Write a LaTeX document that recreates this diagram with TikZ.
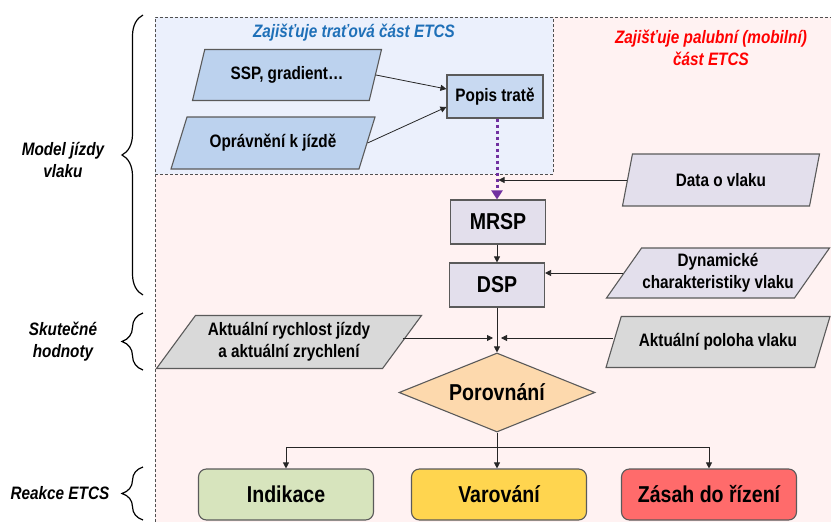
\documentclass[tikz,border=0pt]{standalone}
\usepackage{fontspec}
\setmainfont{Liberation Sans}[FakeStretch=0.85]
\usepackage{xcolor}
\definecolor{bluereg}{HTML}{EBF0FC}
\definecolor{pinkreg}{HTML}{FFF2F2}
\definecolor{dashgray}{HTML}{505050}
\definecolor{edgegray}{HTML}{5A5A5A}
\definecolor{parablue}{HTML}{BCD2EE}
\definecolor{boxblue}{HTML}{C8D9F1}
\definecolor{lavender}{HTML}{E3DFEC}
\definecolor{grayfill}{HTML}{D9D9D9}
\definecolor{peach}{HTML}{FDD9AD}
\definecolor{indgreen}{HTML}{D7E4BD}
\definecolor{varyellow}{HTML}{FFD54F}
\definecolor{zasred}{HTML}{FF6B6B}
\definecolor{titleblue}{HTML}{1F70B8}
\definecolor{titlered}{HTML}{FF0000}
\definecolor{dotpurple}{HTML}{7030A0}
\usetikzlibrary{arrows.meta,shapes.geometric,decorations.pathreplacing}
\newcommand{\smalltxt}{\fontsize{18}{22}\selectfont\bfseries}
\newcommand{\bigtxt}{\fontsize{23}{26}\selectfont\bfseries}
\newcommand{\notetxt}{\fontsize{18}{22}\selectfont\bfseries\itshape}

\begin{document}
\begin{tikzpicture}[x=1pt,y=-1pt,
  region/.style={draw=dashgray,dash pattern=on 3pt off 2pt,line width=0.9pt},
  box/.style={draw=edgegray,line width=1.1pt,rectangle,font=\bigtxt,
        minimum width=95pt,minimum height=44pt,inner sep=0pt},
  para/.style={draw=edgegray,line width=1.1pt,trapezium,trapezium left angle=50,
        trapezium right angle=130,trapezium stretches body,inner sep=0pt,
        font=\smalltxt,align=center},
  reakce/.style={draw=edgegray,line width=1.1pt,rounded corners=8pt,
        minimum width=175pt,minimum height=51pt,font=\bigtxt},
  arr/.style={-{Triangle[length=6pt,width=6pt]},line width=0.8pt,draw=black!85},
  brc/.style={decorate,decoration={brace,amplitude=21pt},line width=1.2pt},
  note/.style={font=\notetxt,align=center}]
  \useasboundingbox (0,0) rectangle (831,522);
  %% Regions
  \fill[pinkreg] (155,17) rectangle (831,522);
  \fill[bluereg] (155,17) rectangle (553,174);
  \draw[region] (155,522) -- (155,17) -- (831,17);
  \draw[region] (155,174) -- (553,174) -- (553,17);
  \node[note,text=titleblue] (ttrack) at (354,33) {Zajišťuje traťová část ETCS};
  \node[note,text=titlered] (tboard) at (711,48) {Zajišťuje palubní (mobilní)\\část ETCS};
  %% Track side
  \node[para,fill=parablue,trapezium left angle=54,trapezium right angle=126,
        minimum width=189pt,minimum height=51pt] (ssp) at (287,75) {SSP, gradient…};
  \node[para,fill=parablue,trapezium left angle=47,trapezium right angle=133,
        minimum width=204pt,minimum height=52pt] (opr) at (273,143) {Oprávnění k jízdě};
  \node[box,fill=boxblue,font=\smalltxt,minimum width=96pt,minimum height=43pt] (popis) at (495,96.5) {Popis tratě};
  \draw[arr] (ssp.east) -- ([yshift=7.5pt]popis.west);
  \draw[arr] (opr.east) -- ([yshift=-10.5pt]popis.west);
  %% Train side
  \node[box,fill=lavender] (mrsp) at (498,222) {MRSP};
  \node[box,fill=lavender] (dsp) at (497,285) {DSP};
  \node[para,fill=lavender,trapezium left angle=53,trapezium right angle=127,
        minimum width=197pt,minimum height=52pt] (data) at (721,180) {Data o vlaku};
  \node[para,fill=lavender,trapezium left angle=48,trapezium right angle=132,
        minimum width=223pt,minimum height=50pt] (dyn) at (718,273) {Dynamické\\charakteristiky vlaku};
  \draw[dotpurple,line width=3pt,dash pattern=on 3pt off 3pt,
        -{Triangle[length=9pt,width=11pt]}] (popis.south -| dsp.north) -- (dsp.north |- mrsp.north);
  \draw[arr,shorten >=1.5pt] (data.west) -- (data.west -| dsp.north);
  \draw[arr] (mrsp.south -| dsp.north) -- (dsp.north);
  \draw[arr] (dyn.west) -- (dyn.west -| dsp.east);
  %% Actual values
  \node[para,fill=grayfill,trapezium left angle=45,trapezium right angle=135,
        minimum width=265pt,minimum height=53pt] (aktr) at (289,342) {Aktuální rychlost jízdy\\a aktuální zrychlení};
  \node[para,fill=grayfill,trapezium left angle=48,trapezium right angle=132,
        minimum width=224pt,minimum height=51pt] (aktp) at (718,342) {Aktuální poloha vlaku};
  \node[diamond,draw=edgegray,line width=1.1pt,fill=peach,font=\bigtxt,aspect=2.48,
        minimum width=196pt,minimum height=79pt,inner sep=0pt] (cmp) at (497,392.5) {Porovnání};
  \coordinate (meet) at (497,338);
  \draw[arr] (dsp) -- (cmp);
  \draw[arr,shorten >=4pt] (aktr.east |- meet) -- (meet);
  \draw[arr,shorten >=4pt] (aktp.west |- meet) -- (meet);
  %% ETCS reactions
  \node[reakce,fill=indgreen] (ind) at (286,494.5) {Indikace};
  \node[reakce,fill=varyellow] (var) at (499,494.5) {Varování};
  \node[reakce,fill=zasred] (zas) at (709,494.5) {Zásah do řízení};
  \coordinate (fork) at (497,447);
  \draw[arr] (cmp.south) -- (cmp.south |- var.north);
  \draw[arr] (fork) -| (ind.north);
  \draw[arr] (fork) -| (zas.north);
  %% Braces
  \draw[brc] (143,295) -- (143,15);
  \draw[brc] (143,370) -- (143,313);
  \draw[brc] (143,520) -- (143,467);
  \node[note] (model) at (63,160) {Model jízdy\\vlaku};
  \node[note] (skut) at (63,342) {Skutečné\\hodnoty};
  \node[note] (reak) at (60,493) {Reakce ETCS};
\end{tikzpicture}
\end{document}
